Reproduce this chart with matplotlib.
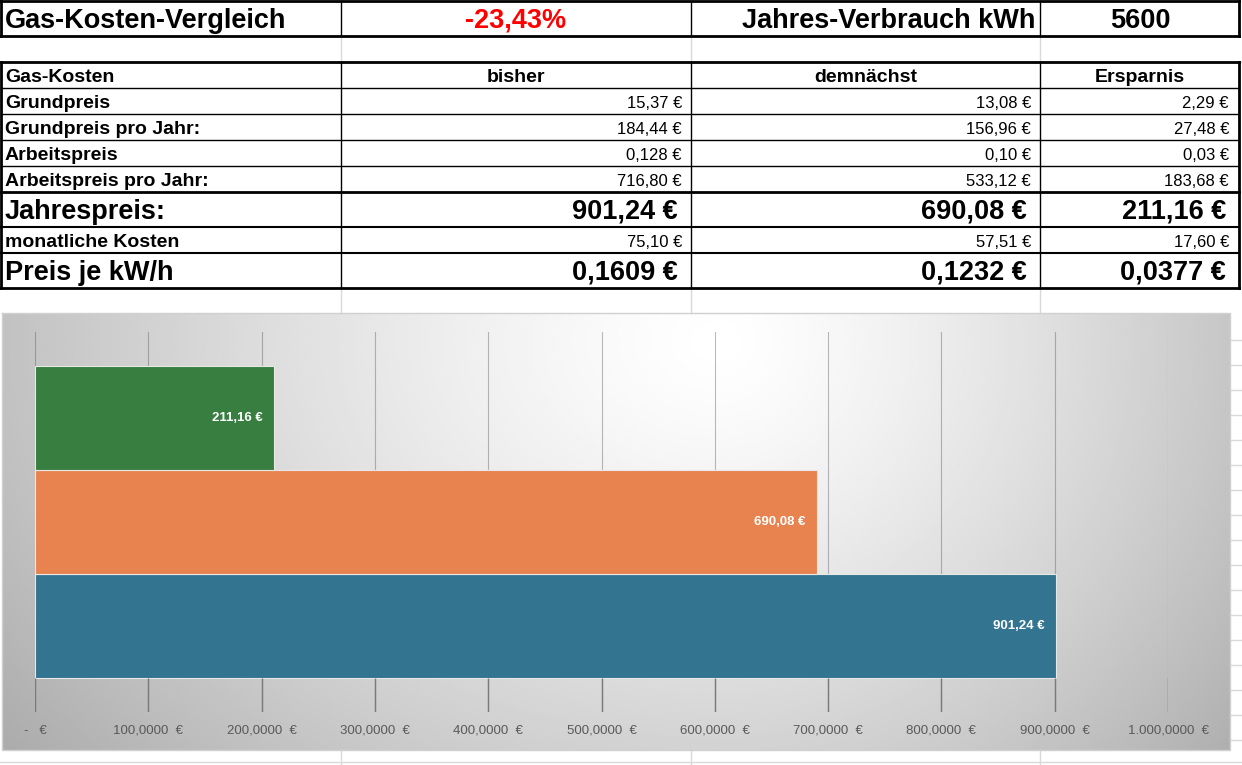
import numpy as np
import matplotlib.pyplot as plt
from matplotlib.ticker import FuncFormatter

# --- Daten -------------------------------------------------------------
verbrauch_kwh = 5600
aenderung = "-23,43%"

spalten = ["bisher", "demnächst", "Ersparnis"]
zeilen = ["Grundpreis", "Grundpreis pro Jahr:", "Arbeitspreis",
          "Arbeitspreis pro Jahr:", "Jahrespreis:", "monatliche Kosten",
          "Preis je kW/h"]
bisher = ["15,37 €", "184,44 €", "0,128 €", "716,80 €", "901,24 €", "75,10 €", "0,1609 €"]
demnaechst = ["13,08 €", "156,96 €", "0,10 €", "533,12 €", "690,08 €", "57,51 €", "0,1232 €"]
ersparnis = ["2,29 €", "27,48 €", "0,03 €", "183,68 €", "211,16 €", "17,60 €", "0,0377 €"]
gross = [False, False, False, False, True, False, True]

# Balken (von unten nach oben)
balken_namen = ["bisher", "demnächst", "Ersparnis"]
balken_werte = [901.24, 690.08, 211.16]
balken_farben = ["#337490", "#e8834f", "#377e40"]
achsen_ticks = [0, 100, 200, 300, 400, 500, 600, 700, 800, 900, 1000]

W, H = 1242, 765
fig = plt.figure(figsize=(W / 100, H / 100), dpi=100)
bg = fig.add_axes([0, 0, 1, 1])
bg.set_xlim(0, W)
bg.set_ylim(H, 0)
bg.axis("off")

tf = ["Liberation Sans", "DejaVu Sans"]
cf = ["Liberation Sans", "DejaVu Sans"]

# --- Zellgitter (hellgrau) ---------------------------------------------
grid_c = "#d9d9d9"
for x in [341, 691, 1040]:
    bg.plot([x, x], [36, 62], color=grid_c, lw=1)
    bg.plot([x, x], [288, 313], color=grid_c, lw=1)
    bg.plot([x, x], [750, 765], color=grid_c, lw=1)
bg.plot([0, 1242], [62, 62], color=grid_c, lw=1)
for y in range(340, 765, 25):
    bg.plot([1230, 1242], [y, y], color=grid_c, lw=1)
bg.plot([0, 1242], [762, 762], color=grid_c, lw=1)

# --- Kopfzeile ---------------------------------------------------------
for x0, x1, y in [(1, 1239, 1), (1, 1239, 36)]:
    bg.plot([x0, x1], [y, y], color="black", lw=2)
for x in [1, 1239]:
    bg.plot([x, x], [1, 36], color="black", lw=2)
for x in [341, 691, 1040]:
    bg.plot([x, x], [1, 36], color="black", lw=1)

bg.text(5, 20.5, "Gas-Kosten-Vergleich", fontsize=19.5, fontweight="bold",
        family=tf, va="center", ha="left")
bg.text(516, 20.5, aenderung, fontsize=19.5, fontweight="bold", color="#ff0000",
        family=tf, va="center", ha="center")
bg.text(1035, 20.5, "Jahres-Verbrauch kWh", fontsize=19.5, fontweight="bold",
        family=tf, va="center", ha="right")
bg.text(1140, 20.5, str(verbrauch_kwh), fontsize=19.5, fontweight="bold",
        family=tf, va="center", ha="center")

# --- Tabelle -----------------------------------------------------------
row_lines = [62, 88, 114, 140, 166, 192, 227, 253, 288]
row_lw = [2, 1, 1, 1, 1, 2, 1.5, 1.5, 2]
for y, lw in zip(row_lines, row_lw):
    bg.plot([1, 1239], [y, y], color="black", lw=lw)
for x in [1, 1239]:
    bg.plot([x, x], [62, 288], color="black", lw=2)
for x in [341, 691, 1040]:
    bg.plot([x, x], [62, 288], color="black", lw=1)

bg.text(5, 77, "Gas-Kosten", fontsize=14, fontweight="bold", family=tf,
        va="center", ha="left")
for cx, name in zip([516, 866, 1140], spalten):
    bg.text(cx, 77, name, fontsize=14, fontweight="bold", family=tf,
            va="center", ha="center")

for i, label in enumerate(zeilen):
    y0, y1 = row_lines[i + 1], row_lines[i + 2]
    yc = (y0 + y1) / 2 + 2
    if gross[i]:
        fs_l, fs, fw, rx = 19.5, 19.5, "bold", [678, 1027, 1226]
    else:
        fs_l, fs, fw, rx = 14, 12, "normal", [682, 1031, 1229]
    bg.text(5, yc, label, fontsize=fs_l, fontweight="bold", family=tf,
            va="center", ha="left")
    for x, col in zip(rx, [bisher, demnaechst, ersparnis]):
        bg.text(x, yc, col[i], fontsize=fs, fontweight=fw, family=tf,
                va="center", ha="right")

# --- Diagrammhintergrund -----------------------------------------------
cx0, cx1, cy0, cy1 = 2, 1230, 313, 750
xx, yy = np.meshgrid(np.linspace(cx0, cx1, 400), np.linspace(cy0, cy1, 200))
sx = np.where(xx < 720, 740, 560)
r = np.sqrt(((xx - 720) / sx) ** 2 + ((yy - 340) / 540) ** 2)
shade = 1 - 0.25 * np.clip(r, 0, 1.3) ** 1.3
bg.imshow(shade, extent=(cx0, cx1, cy1, cy0), cmap="gray", vmin=0, vmax=1,
          aspect="auto", interpolation="bilinear", zorder=0)
bg.plot([cx0, cx1, cx1, cx0, cx0], [cy0, cy0, cy1, cy1, cy0], color="#d0d0d0", lw=1)

# --- Balkendiagramm ----------------------------------------------------
ax = fig.add_axes([35 / W, 1 - 712 / H, (1168 - 35) / W, (712 - 332) / H])
ax.set_facecolor("none")
y = np.arange(len(balken_werte))
ax.barh(y, balken_werte, height=1.0, color=balken_farben, edgecolor="#e8e8e8",
        linewidth=0.8, zorder=2)
ax.set_xlim(0, 1000)
ax.set_ylim(-0.825, 2.825)
ax.set_xticks(achsen_ticks)
ax.grid(axis="x", color="#555555", alpha=0.4, lw=0.8, zorder=3)
ax.vlines(achsen_ticks, -0.825, -0.5, color="#7a7a7a", lw=1, zorder=3)
for s in ax.spines.values():
    s.set_visible(False)
ax.set_yticks([])


def eur(v, pos):
    if v == 0:
        return "-   €"
    s = f"{v:,.4f}".replace(",", "X").replace(".", ",").replace("X", ".")
    return s + "  €"


ax.xaxis.set_major_formatter(FuncFormatter(eur))
ax.tick_params(axis="x", length=0, pad=9, labelsize=9.5, labelcolor="#595959")
for lab in ax.get_xticklabels():
    lab.set_family(cf)

for yi, v in zip(y, balken_werte):
    txt = f"{v:.2f}".replace(".", ",") + " €"
    ax.annotate(txt, (v, yi), xytext=(-8, 0), textcoords="offset points",
                ha="right", va="center", color="white", fontsize=9.5,
                fontweight="bold", family=cf, zorder=4)

fig.savefig("out.png", dpi=100)
